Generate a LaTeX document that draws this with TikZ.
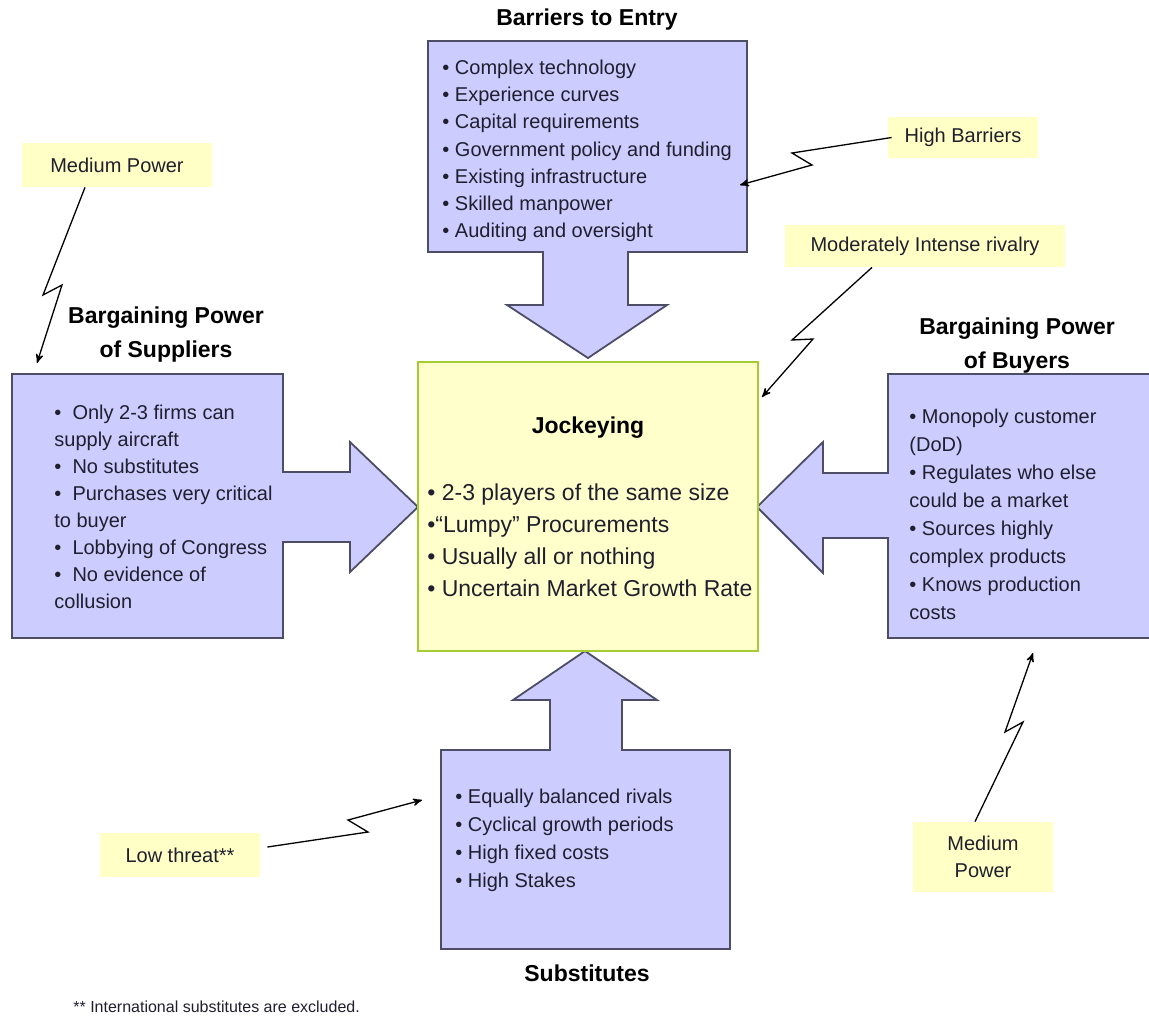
\documentclass[tikz,border=0pt]{standalone}
\usepackage{fontspec}
\setmainfont{Liberation Sans}
\usetikzlibrary{arrows,positioning}
\definecolor{forcefill}{HTML}{CCCCFF}
\definecolor{forceline}{HTML}{4D4D66}
\definecolor{jockfill}{HTML}{FFFFCC}
\definecolor{jockline}{HTML}{A6CC33}
\definecolor{notefill}{HTML}{FFFFC6}
\definecolor{ink}{HTML}{1F1F2E}

\begin{document}
\begin{tikzpicture}
[x=0.5pt,y=-0.5pt,>=stealth',
  forceshape/.style={draw=forceline,fill=forcefill,line width=0.9pt},
  itemtext/.style={align=left,inner sep=0pt,text=ink,font=\fontsize{10}{13.6}\selectfont},
  headtext/.style={align=center,inner sep=0pt,font=\bfseries\fontsize{11.5}{17}\selectfont},
  notebox/.style={fill=notefill,inner sep=0pt,align=center,text=ink,font=\fontsize{10}{13.5}\selectfont},
  bolt/.style={->,line width=0.65pt}]

  \useasboundingbox (0,0) rectangle (1149,1024);

  % the four forces (box + block arrow)
  \draw[forceshape] (428,41) -- (747,41) -- (747,252) -- (628,252) -- (628,305) -- (667,305)
    -- (588,358) -- (507,305) -- (543,305) -- (543,252) -- (428,252) -- cycle;
  \draw[forceshape] (12,374) -- (283,374) -- (283,472) -- (350,472) -- (350,442) -- (418,507)
    -- (350,572) -- (350,542) -- (283,542) -- (283,638) -- (12,638) -- cycle;
  \draw[forceshape] (1170,374) -- (888,374) -- (888,473) -- (823,473) -- (823,442) -- (757,507)
    -- (823,573) -- (823,538) -- (888,538) -- (888,638) -- (1170,638) -- cycle;
  \draw[forceshape] (441,949) -- (730,949) -- (730,750) -- (622,750) -- (622,700) -- (657,700)
    -- (585,651) -- (513,700) -- (550,700) -- (550,750) -- (441,750) -- cycle;

  \node[draw=jockline,fill=jockfill,line width=0.9pt,minimum width=170pt,minimum height=144.5pt,inner sep=0pt]
    (jockey) at (588,506.5) {};

  % titles
  \node[headtext] (barhead) at (587,20) {Barriers to Entry};
  \node[headtext] (suphead) at (166,335) {Bargaining Power\\of Suppliers};
  \node[headtext] (buyhead) at (1017,346) {Bargaining Power\\of Buyers};
  \node[headtext] (subhead) at (587,973) {Substitutes};
  \node[headtext] (jockhead) at (588,428) {Jockeying};

  % lists
  \node[itemtext,anchor=west] (barlist) at (442,151)
    {• Complex technology\\• Experience curves\\• Capital requirements\\• Government policy and funding\\• Existing infrastructure\\• Skilled manpower\\• Auditing and oversight};
  \node[itemtext,anchor=west,font=\fontsize{10}{13.5}\selectfont] (suplist) at (54,507)
    {•~~Only 2-3 firms can\\supply aircraft\\•~~No substitutes\\•~~Purchases very critical\\to buyer\\•~~Lobbying of Congress\\•~~No evidence of\\collusion};
  \node[itemtext,anchor=west,font=\fontsize{10}{14}\selectfont] (buylist) at (909,514)
    {• Monopoly customer\\(DoD)\\• Regulates who else\\could be a market\\• Sources highly\\complex products\\• Knows production\\costs};
  \node[itemtext,anchor=west,font=\fontsize{10}{14}\selectfont] (sublist) at (455,840)
    {• Equally balanced rivals\\• Cyclical growth periods\\• High fixed costs\\• High Stakes};
  \node[itemtext,anchor=west,font=\fontsize{11.5}{16}\selectfont] (jocklist) at (427,540)
    {• 2-3 players of the same size\\•“Lumpy” Procurements\\• Usually all or nothing\\• Uncertain Market Growth Rate};

  % notes
  \node[notebox,minimum width=95pt,minimum height=22pt] (mpTL) at (117,165) {Medium Power};
  \node[notebox,minimum width=75pt,minimum height=20.5pt] (hb) at (963,137.5) {High Barriers};
  \node[notebox,minimum width=140pt,minimum height=21pt] (rivalry) at (925,246) {Moderately Intense rivalry};
  \node[notebox,minimum width=80pt,minimum height=22pt] (lt) at (180,855) {Low threat**};
  \node[notebox,minimum width=70pt,minimum height=35pt] (mpBR) at (983,857) {Medium\\Power};

  \node[anchor=west,inner sep=0pt,text=ink,font=\fontsize{8}{10}\selectfont] (foot) at (73,1007)
    {** International substitutes are excluded.};

  % lightning connectors
  \coordinate (tl-s) at ([xshift=-16pt]mpTL.south);
  \coordinate (tl-a) at (43,295);
  \coordinate (tl-b) at (62,285);
  \coordinate (tl-e) at (37,363);
  \coordinate (hb-s) at ([xshift=2pt]hb.west);
  \coordinate (hb-a) at (792,153);
  \coordinate (hb-b) at (812,165);
  \coordinate (hb-e) at (740,185);
  \coordinate (riv-s) at ([xshift=-26.5pt]rivalry.south);
  \coordinate (riv-a) at (792,340);
  \coordinate (riv-b) at (813,339);
  \coordinate (riv-e) at (762,397);
  \coordinate (br-s) at ([xshift=-4pt]mpBR.north);
  \coordinate (br-a) at (1023,722);
  \coordinate (br-b) at (1005,732);
  \coordinate (br-e) at (1033,653);
  \coordinate (lt-s) at ([xshift=3.5pt,yshift=4pt]lt.east);
  \coordinate (lt-a) at (368,832);
  \coordinate (lt-b) at (348,820);
  \coordinate (lt-e) at (422,800);

  \foreach \n in {tl,hb,riv,br,lt}
    \draw[bolt] (\n-s) -- (\n-a) -- (\n-b) -- (\n-e);

\end{tikzpicture}
\end{document}
